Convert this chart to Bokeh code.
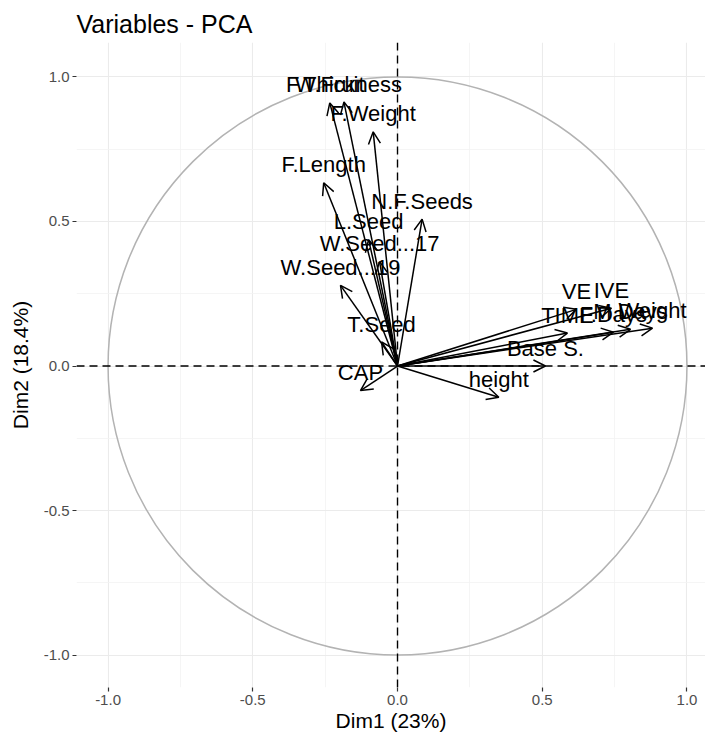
from bokeh.plotting import figure
from bokeh.models import ColumnDataSource, Arrow, OpenHead, Span, FixedTicker, PrintfTickFormatter
from bokeh.embed import file_html
from bokeh.resources import INLINE
from bokeh.core.properties import value

# PCA variable coordinates (Dim1, Dim2)
variables = ["W.Fruit", "F.Thickness", "F.Weight", "F.Length", "N.F.Seeds",
             "L.Seed", "W.Seed...17", "W.Seed...19", "T.Seed", "CAP", "height",
             "Base S.", "TIME", "F.Days", "M.Days", "Weight", "VE", "IVE"]
dim1 = [-0.234, -0.185, -0.084, -0.255, 0.085,
        -0.100, -0.062, -0.197, -0.055, -0.128, 0.350,
        0.511, 0.587, 0.746, 0.805, 0.881, 0.618, 0.739]
dim2 = [0.910, 0.913, 0.810, 0.634, 0.508,
        0.437, 0.361, 0.279, 0.083, -0.085, -0.108,
        0.000, 0.114, 0.117, 0.127, 0.131, 0.196, 0.200]
origin = [0.0] * len(variables)

major_ticks = [-1.0, -0.5, 0.0, 0.5, 1.0]
minor_ticks = [-0.75, -0.25, 0.25, 0.75]

FONT = "Liberation Sans"

p = figure(width=705, height=734, output_backend="svg", toolbar_location=None,
           x_range=(-1.109, 1.064), y_range=(-1.112, 1.119),
           title="Variables - PCA", min_border_left=76, min_border_right=0,
           min_border_top=42, min_border_bottom=0)

p.background_fill_color = "white"
p.border_fill_color = "white"
p.outline_line_color = None

p.title.text_font = FONT
p.title.text_font_size = "25px"
p.title.text_font_style = "normal"
p.title.text_color = "black"

for ax in (p.xaxis[0], p.yaxis[0]):
    ax.ticker = FixedTicker(ticks=major_ticks, minor_ticks=minor_ticks)
    ax.formatter = PrintfTickFormatter(format="%.1f")
    ax.axis_line_color = None
    ax.major_tick_in = 0
    ax.major_tick_out = 4
    ax.major_tick_line_color = "#333333"
    ax.major_tick_line_width = 1.2
    ax.minor_tick_line_color = None
    ax.major_label_text_font = FONT
    ax.major_label_text_font_size = "15px"
    ax.major_label_text_color = "#4D4D4D"
    ax.axis_label_text_font = FONT
    ax.axis_label_text_font_size = "21px"
    ax.axis_label_text_font_style = "normal"
    ax.axis_label_text_color = "black"
    ax.major_label_standoff = 3
    ax.axis_label_standoff = 1

p.yaxis.axis_label_standoff = 9
p.xaxis.axis_label = "Dim1 (23%)"
p.yaxis.axis_label = "Dim2 (18.4%)"

for g in (p.xgrid[0], p.ygrid[0]):
    g.ticker = FixedTicker(ticks=major_ticks, minor_ticks=minor_ticks)
    g.grid_line_color = "#EBEBEB"
    g.grid_line_width = 1.1
    g.minor_grid_line_color = "#F3F3F3"
    g.minor_grid_line_width = 0.8

# correlation circle
p.ellipse(x=0, y=0, width=2, height=2, fill_color=None,
          line_color="#B3B3B3", line_width=1.5)

# dashed reference lines
p.add_layout(Span(location=0, dimension="height", line_color="black",
                  line_dash="8 5", line_width=1.4))
p.add_layout(Span(location=0, dimension="width", line_color="black",
                  line_dash="8 5", line_width=1.4))

src = ColumnDataSource(dict(x0=origin, y0=origin, x=dim1, y=dim2, name=variables))

p.add_layout(Arrow(end=OpenHead(size=12, line_width=1.5, line_color="black"),
                   x_start="x0", y_start="y0", x_end="x", y_end="y",
                   line_color="black", line_width=1.5, source=src))

p.text(x="x", y="y", text="name", source=src, text_align="center",
       text_baseline="middle", y_offset=-18, text_font=value(FONT),
       text_font_size="22px", text_color="black")

open("out.html", "w").write(file_html(p, INLINE))
